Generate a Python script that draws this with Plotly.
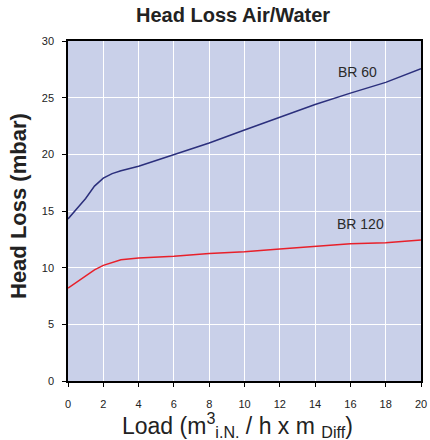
import plotly.graph_objects as go

load_br60 = [0, 0.5, 1.0, 1.5, 2.0, 2.5, 3.0, 4.0, 6.0, 8.0, 10.0, 12.0, 14.0, 16.0, 18.0, 20.0]
loss_br60 = [14.3, 15.2, 16.1, 17.2, 17.9, 18.3, 18.55, 18.95, 19.95, 21.0, 22.15, 23.25, 24.4, 25.4, 26.35, 27.55]

load_br120 = [0, 1.0, 1.5, 2.0, 3.0, 4.0, 6.0, 8.0, 10.0, 12.0, 14.0, 16.0, 18.0, 20.0]
loss_br120 = [8.2, 9.3, 9.8, 10.2, 10.7, 10.85, 11.0, 11.25, 11.4, 11.65, 11.9, 12.1, 12.2, 12.45]

x_ticks = [0, 2, 4, 6, 8, 10, 12, 14, 16, 18, 20]
y_ticks = [0, 5, 10, 15, 20, 25, 30]

font = "Liberation Sans, Arial, sans-serif"
ink = "#222222"

fig = go.Figure()
fig.add_trace(go.Scatter(x=load_br60, y=loss_br60, mode="lines", name="BR 60",
                         line=dict(color="#2b2f7c", width=1.5)))
fig.add_trace(go.Scatter(x=load_br120, y=loss_br120, mode="lines", name="BR 120",
                         line=dict(color="#e8202a", width=1.5)))

fig.add_annotation(x=16.4, y=27.3, text="BR 60", showarrow=False,
                   font=dict(family=font, size=14, color="#2a2a2a"))
fig.add_annotation(x=16.6, y=13.85, text="BR 120", showarrow=False,
                   font=dict(family=font, size=14, color="#2a2a2a"))

# chart title and axis titles
fig.add_annotation(xref="paper", yref="paper", x=(233 - 68) / 353, y=(381 - 15) / 340,
                   text="<b>Head Loss Air/Water</b>", showarrow=False,
                   xanchor="center", yanchor="middle",
                   font=dict(family=font, size=20, color=ink))
fig.add_annotation(xref="paper", yref="paper", x=(237 - 68) / 353, y=(381 - 425) / 340,
                   text="Load (m<sup>3</sup><sub>i.N.</sub> / h x m <sub>Diff</sub>)",
                   showarrow=False, xanchor="center", yanchor="middle",
                   font=dict(family=font, size=23, color=ink))
fig.add_annotation(xref="paper", yref="paper", x=(18 - 68) / 353, y=(381 - 206) / 340,
                   text="<b>Head Loss (mbar)</b>", showarrow=False, textangle=-90,
                   xanchor="center", yanchor="middle",
                   font=dict(family=font, size=22, color=ink))

fig.update_layout(
    width=430, height=440,
    margin=dict(l=68, r=9, t=41, b=59),
    paper_bgcolor="white",
    plot_bgcolor="#c9d0e9",
    showlegend=False,
)
fig.update_xaxes(range=[0, 20], tickvals=x_ticks, ticks="outside", ticklen=4, tickcolor="black",
                 showgrid=True, gridcolor="white", gridwidth=1.2,
                 showline=True, linecolor="black", linewidth=1.5, mirror=True,
                 zeroline=False, automargin=False, ticklabelstandoff=8,
                 tickfont=dict(family=font, size=11, color=ink))
fig.update_yaxes(range=[0, 30], tickvals=y_ticks, ticks="outside", ticklen=4, tickcolor="black",
                 showgrid=True, gridcolor="white", gridwidth=1.2,
                 showline=True, linecolor="black", linewidth=1.5, mirror=True,
                 zeroline=False, automargin=False, ticklabelstandoff=6,
                 tickfont=dict(family=font, size=11, color=ink))

fig.write_html("out.html", config={"displayModeBar": False},
               post_script="document.body.style.margin='0px';")
